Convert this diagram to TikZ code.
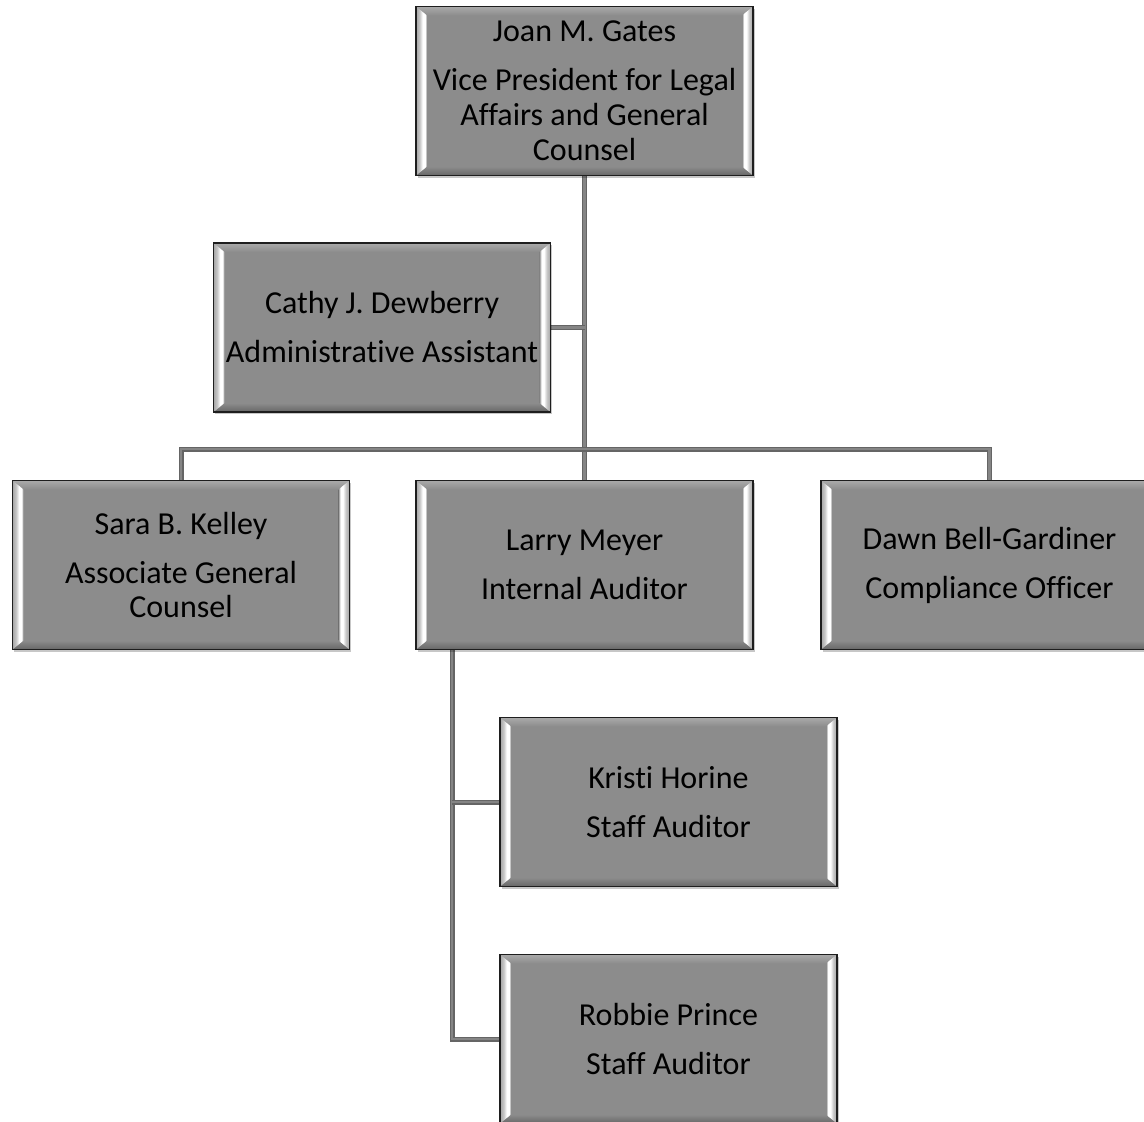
\documentclass[tikz,border=0pt]{standalone}
\usepackage{fontspec}
\setmainfont{Carlito}[Ligatures=NoCommon]
\usetikzlibrary{shadows,backgrounds}
\definecolor{boxfill}{HTML}{8C8C8C}
\definecolor{boxline}{HTML}{1E1E1E}
\definecolor{bevtop}{HTML}{AAAAAA}
\definecolor{bevbot}{HTML}{666666}
\definecolor{bevside}{HTML}{A4A4A4}
\definecolor{connedge}{HTML}{656565}
\definecolor{connmid}{HTML}{858585}
% side bevel bands: grey outer part, bright streak near the inner edge
\pgfdeclarehorizontalshading{bevelleft}{100bp}{color(0bp)=(bevside); color(25bp)=(bevside);
  color(42bp)=(bevside!60!white); color(55bp)=(white); color(66bp)=(white); color(75bp)=(boxfill); color(100bp)=(boxfill)}
\pgfdeclarehorizontalshading{bevelright}{100bp}{color(0bp)=(boxfill); color(25bp)=(boxfill);
  color(34bp)=(white); color(45bp)=(white); color(58bp)=(bevside!60!white); color(75bp)=(bevside); color(100bp)=(bevside)}
\tikzset{
  bevelbox/.style={rectangle, draw=boxline, line width=1.6pt, fill=boxfill,
    minimum width=337pt, minimum height=169pt, inner sep=0pt, align=center,
    font=\fontsize{32}{35}\selectfont,
    drop shadow={shadow xshift=1.5pt, shadow yshift=-2pt, fill=black, opacity=0.22},
    path picture={
      \coordinate (pnw) at (path picture bounding box.north west);
      \coordinate (pne) at (path picture bounding box.north east);
      \coordinate (psw) at (path picture bounding box.south west);
      \coordinate (pse) at (path picture bounding box.south east);
      % top and bottom bevel bands
      \shade[top color=bevtop, bottom color=boxfill]
        (pnw) -- (pne) -- ([shift={(-11pt,-9pt)}]pne) -- ([shift={(11pt,-9pt)}]pnw) -- cycle;
      \shade[top color=boxfill, bottom color=bevbot]
        (psw) -- ([shift={(11pt,9pt)}]psw) -- ([shift={(-11pt,9pt)}]pse) -- (pse) -- cycle;
      % side bevel bands
      \shade[shading=bevelleft]
        (pnw) -- ([shift={(11pt,-9pt)}]pnw) -- ([shift={(11pt,9pt)}]psw) -- (psw) -- cycle;
      \shade[shading=bevelright]
        (pne) -- ([shift={(-11pt,-9pt)}]pne) -- ([shift={(-11pt,9pt)}]pse) -- (pse) -- cycle;
    }},
  conn/.style={draw=connedge, line width=5pt, postaction={draw=connmid, line width=2.4pt}}
}
\newcommand\gap{\\[14pt]}
\begin{document}
\begin{tikzpicture}[x=1pt, y=-1pt]
  \useasboundingbox (0,0) rectangle (1144,1122);

  \node[bevelbox] (vp) at (584.5,91) {Joan M. Gates\gap Vice President for Legal\\ Affairs and General\\ Counsel};
  \node[bevelbox] (aa) at (382,327.5) {Cathy J. Dewberry\gap Administrative Assistant};
  \node[bevelbox] (sk) at (181,565) {Sara B. Kelley\gap Associate General\\ Counsel};
  \node[bevelbox] (lm) at (584.5,565) {Larry Meyer\gap Internal Auditor};
  \node[bevelbox] (db) at (989.5,565) {Dawn Bell-Gardiner\gap Compliance Officer};
  \node[bevelbox] (kh) at (668.5,802) {Kristi Horine\gap Staff Auditor};
  \node[bevelbox] (rp) at (668.5,1039) {Robbie Prince\gap Staff Auditor};

  \coordinate (bus) at (584.5,449);
  \coordinate (tap) at ([xshift=37pt]lm.south west);

  \begin{pgfonlayer}{background}
    \draw[conn] (vp.south) -- (lm.north);
    \draw[conn] (aa.east) -- (aa.east -| vp.south);
    \draw[conn] (sk.north) -- (sk.north |- bus) -- (db.north |- bus) -- (db.north);
    \draw[conn] (tap) -- (tap |- rp.west) -- (rp.west);
    \draw[conn] (tap |- kh.west) -- (kh.west);
  \end{pgfonlayer}
\end{tikzpicture}
\end{document}
